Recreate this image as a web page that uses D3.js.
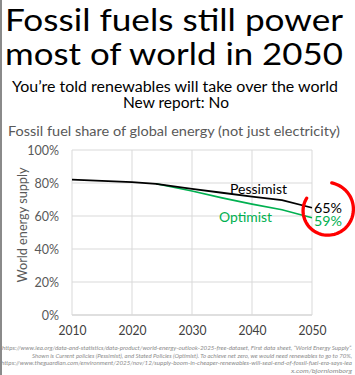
<!DOCTYPE html>
<html><head><meta charset="utf-8">
<script src="https://cdn.jsdelivr.net/npm/d3@7"></script>
<style>
html,body{margin:0;padding:0;background:#fff;}
svg{display:block;font-family:Lato,"Open Sans",sans-serif;}
</style></head>
<body><svg id="c" width="355" height="375"></svg>
<script>
const titleLines = ["Fossil fuels still power", "most of world in 2050"];
const subtitleLines = ["You\u2019re told renewables will take over the world", "New report: No"];
const chartTitle = "Fossil fuel share of global energy (not just electricity)";
const yAxisLabel = "World energy supply";
const xTicks = [2010, 2020, 2030, 2040, 2050];
const yTicks = [0, 20, 40, 60, 80, 100];
const pessimistYears = [2010, 2015, 2020, 2024, 2030, 2035, 2040, 2045, 2050];
const pessimistValues = [82, 81.3, 80.5, 79.5, 76.4, 74.1, 71.8, 69.6, 65];
const optimistYears = [2024, 2030, 2035, 2040, 2045, 2050];
const optimistValues = [79.5, 75.2, 71, 67.2, 63.8, 59];
const seriesNames = ["Pessimist", "Optimist"];
const endLabels = ["65%", "59%"];
const footnotes = [
 "https://www.iea.org/data-and-statistics/data-product/world-energy-outlook-2025-free-dataset, First data sheet, \u201cWorld Energy Supply\u201d.",
 "Shown is Current policies (Pessimist), and Stated Policies (Optimist). To achieve net zero, we would need renewables to go to 70%,",
 "https://www.theguardian.com/environment/2025/nov/12/supply-boom-in-cheaper-renewables-will-seal-end-of-fossil-fuel-era-says-iea",
 "x.com/bjornlomborg"
];

const svg = d3.select("#c");
const green = "#00b050";

function txt(x0, y0, s, fs, w, anchor, fill, extra){
  const t = svg.append("text").attr("x",x0).attr("y",y0).attr("font-size",fs)
    .attr("text-anchor",anchor||"start").attr("fill",fill||"#000").text(s);
  if(w){ t.attr("textLength", w).attr("lengthAdjust","spacingAndGlyphs"); }
  if(extra) extra(t);
  return t;
}

svg.append("rect").attr("x",0).attr("y",0).attr("width",2).attr("height",375).attr("fill","#8a8a8a");

// Title
txt(5, 30.5, titleLines[0], 30.5, 338);
txt(5, 65, titleLines[1], 30.5, 338);
txt(12, 92, subtitleLines[0], 14.5, 326);
txt(123, 108, subtitleLines[1], 14.5, 106);
txt(8, 136, chartTitle, 13.5, 332, "start", "#595959");

// scales
const x = d3.scaleLinear().domain([2010, 2050]).range([72, 312]);
const y = d3.scaleLinear().domain([0, 100]).range([315, 150]);

const g = svg.append("g");
g.selectAll(".hg").data(yTicks).join("line")
  .attr("x1", x(2010)).attr("x2", x(2050))
  .attr("y1", d=>y(d)).attr("y2", d=>y(d))
  .attr("stroke", d=> d===0 ? "#bfbfbf" : "#d9d9d9").attr("stroke-width",1);
g.selectAll(".vg").data(xTicks).join("line")
  .attr("x1", d=>x(d)).attr("x2", d=>x(d))
  .attr("y1", y(0)).attr("y2", y(100))
  .attr("stroke","#d9d9d9").attr("stroke-width",1);

const yAxis = d3.axisLeft(y).tickValues(yTicks).tickFormat(d=>d+"%").tickSize(0).tickPadding(13);
const ya = svg.append("g").attr("transform",`translate(${x(2010)},0)`).call(yAxis);
ya.select(".domain").remove();
ya.selectAll("text").attr("font-size",12.5).attr("fill","#595959").attr("font-family","Lato,'Open Sans',sans-serif");

const xAxis = d3.axisBottom(x).tickValues(xTicks).tickFormat(d3.format("d")).tickSize(0).tickPadding(11);
const xa = svg.append("g").attr("transform",`translate(0,${y(0)})`).call(xAxis);
xa.select(".domain").remove();
xa.selectAll("text").attr("font-size",13).attr("fill","#404040").attr("font-family","Lato,'Open Sans',sans-serif")
  .attr("textLength",28).attr("lengthAdjust","spacingAndGlyphs");

svg.append("text").attr("transform","translate(27,225) rotate(-90)").attr("text-anchor","middle")
  .attr("font-size",12.5).attr("fill","#595959").attr("textLength",115).attr("lengthAdjust","spacingAndGlyphs").text(yAxisLabel);

// lines
const line = d3.line().x(d=>x(d[0])).y(d=>y(d[1]));
const opt = optimistYears.map((yr,i)=>[yr, optimistValues[i]]);
const pes = pessimistYears.map((yr,i)=>[yr, pessimistValues[i]]);
svg.append("path").datum(opt).attr("d", line).attr("fill","none").attr("stroke",green).attr("stroke-width",1.6);
svg.append("path").datum(pes).attr("d", line).attr("fill","none").attr("stroke","#000").attr("stroke-width",1.8);

// series labels
txt(230, 194, seriesNames[0], 14, 57, "start", "#000");
txt(219, 222, seriesNames[1], 14, 53, "start", green);
txt(314, y(pessimistValues[pessimistValues.length-1])+5, endLabels[0], 14, 28, "start", "#000");
txt(314, y(optimistValues[optimistValues.length-1])+8.5, endLabels[1], 14, 28, "start", green);

// red circle (hand-drawn style)
const cx = 327, cy = 210;
const p = d3.path();
const steps = 72;
const s0 = 10*Math.PI/180, s1 = 300*Math.PI/180;
for(let i=0;i<=steps;i++){
  const tt = i/steps;
  const a = s0 + (s1 - s0)*tt;
  const r = 27.5 - 4*tt;
  const px = cx + r*Math.sin(a);
  const py = cy - r*Math.cos(a);
  if(i===0) p.moveTo(px,py); else p.lineTo(px,py);
}
svg.append("path").attr("d", p.toString()).attr("fill","none").attr("stroke","#ff0000").attr("stroke-width",3.3).attr("stroke-linecap","round");

// footnotes
const fy = [350, 357.5, 365, 372.5];
const fx0 = [2, 32, 1, 291];
footnotes.forEach((f,i)=>{
  txt(352, fy[i], f, 5.5, 352 - fx0[i], "end", "#8c8c8c", t=>t.attr("font-style","italic"));
});
</script></body></html>
